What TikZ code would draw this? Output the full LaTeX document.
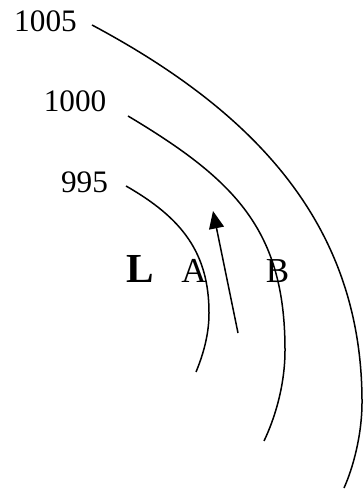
\documentclass[tikz,border=0pt]{standalone}
\usepackage{fontspec}
\setmainfont{Liberation Serif}
\usetikzlibrary{arrows.meta}

\tikzset{
  isobar/.style={line width=0.6pt},
  pval/.style={anchor=base, inner sep=0pt, font=\fontsize{12.5}{14}\selectfont},
  spot/.style={anchor=base, inner sep=0pt, font=\fontsize{14}{16}\selectfont}
}

\begin{document}
\begin{tikzpicture}[x=0.4pt, y=-0.4pt]
  \useasboundingbox (0,0) rectangle (363,490);
  % pressure values
  \node[pval] (p1005) at (45.5,32) {1005};
  \node[pval] (p1000) at (75,112) {1000};
  \node[pval] (p995) at (84.5,193) {995};
  % low centre and the two points
  \node[anchor=base, inner sep=0pt, font=\fontsize{16.5}{18}\selectfont\bfseries] (low) at (140,283) {L};
  \node[spot] (ptA) at (194,283) {A};
  \node[spot] (ptB) at (277.5,283) {B};
  % isobars
  \draw[isobar] (92,25) .. controls (255,112) and (362,225) .. (362,402)
    .. controls (362,435) and (353,468) .. (344,488);
  \draw[isobar] (128,116) .. controls (235,180) and (285,230) .. (285,350)
    .. controls (285,385) and (275,418) .. (264,441);
  \draw[isobar] (126,186) .. controls (182,218) and (209,253) .. (209,313)
    .. controls (209,335) and (203,355) .. (196,372);
  % wind
  \coordinate (tail) at (238,333);
  \coordinate (tip) at (213,211);
  \draw[isobar, -{Triangle[length=7pt, width=6pt]}] (tail) -- (tip);
\end{tikzpicture}
\end{document}
